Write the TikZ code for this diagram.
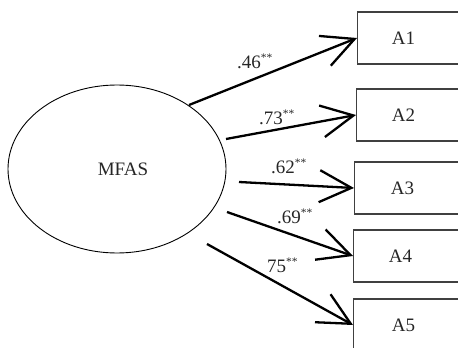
\documentclass[tikz,border=0pt]{standalone}
\usepackage{fontspec}
\setmainfont{Liberation Serif}
\usetikzlibrary{arrows.meta,shapes.geometric}
\newcommand\sigmark{\raisebox{6.5pt}{\fontsize{11.5}{11.5}\selectfont **}}
\begin{document}
\begin{tikzpicture}[x=1pt,y=-1pt,
  txt/.style={font=\fontsize{19}{21}\selectfont, text=black!85},
  latent/.style={ellipse, draw=black, line width=0.9pt, minimum width=218pt, minimum height=168pt, inner sep=0pt, txt},
  obsbox/.style={rectangle, draw=black!75, line width=1.2pt, minimum width=120pt, minimum height=52pt, inner sep=0pt, anchor=west, txt},
  coef/.style={anchor=base west, inner sep=0pt, txt},
  path/.style={line width=2.3pt, -{Straight Barb[length=32pt, width=32pt, line width=2.3pt]}}
]
\useasboundingbox (0,0) rectangle (458,348);
\node[latent] (m) at (117,169) {\hspace*{12pt}MFAS};
\node[obsbox] (b1) at (357,38) {A1\hspace*{28pt}};
\node[obsbox] (b2) at (356,115) {A2\hspace*{26pt}};
\node[obsbox] (b3) at (354,188) {A3\hspace*{24pt}};
\node[obsbox] (b4) at (353,256) {A4\hspace*{26pt}};
\node[obsbox] (b5) at (353,325) {A5\hspace*{20pt}};
\coordinate (s1) at (189,105);
\coordinate (s2) at (226,139);
\coordinate (s3) at (239,182);
\coordinate (s4) at (227,212);
\coordinate (s5) at (207,244);
\draw[path] (s1) -- (b1.west);
\draw[path] (s2) -- (b2.west);
\draw[path] (s3) -- (b3.west);
\draw[path] (s4) -- (b4.west);
\draw[path] (s5) -- (b5.west);
\node[coef] (l1) at (237,68) {.46\sigmark};
\node[coef] (l2) at (259,124) {.73\sigmark};
\node[coef] (l3) at (271,173) {.62\sigmark};
\node[coef] (l4) at (277,223) {.69\sigmark};
\node[coef] (l5) at (267,272) {75\sigmark};
\end{tikzpicture}
\end{document}
